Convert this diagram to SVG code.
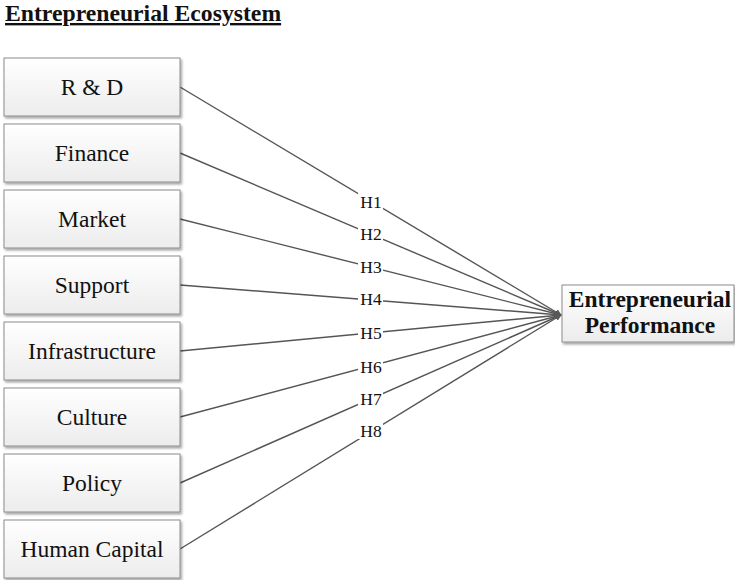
<svg xmlns="http://www.w3.org/2000/svg" width="735" height="580" viewBox="0 0 735 580">
  <defs>
    <linearGradient id="boxFill" x1="0" y1="0" x2="0" y2="1">
      <stop offset="0" stop-color="#ffffff"/>
      <stop offset="1" stop-color="#ececec"/>
    </linearGradient>
    <filter id="shadow" x="-10%" y="-10%" width="120%" height="130%">
      <feDropShadow dx="1.5" dy="2" stdDeviation="1.2" flood-color="#000" flood-opacity="0.35"/>
    </filter>
    <marker id="arrow" viewBox="0 0 10 10" refX="9" refY="5" markerWidth="4.5" markerHeight="4.5" orient="auto">
      <path d="M0,0 L10,5 L0,10 z" fill="#595959"/>
    </marker>
  </defs>
  <style>
    .box { fill: url(#boxFill); stroke: #8c8c8c; stroke-width: 1; filter: url(#shadow); }
    .lbl { font-family: "Liberation Serif", "Times New Roman", serif; font-size: 23.5px; fill: #111; text-anchor: middle; }
    .bold { font-weight: bold; }
    .conn { stroke: #555555; stroke-width: 1.4; fill: none; marker-end: url(#arrow); }
    .h { font-family: "Liberation Serif", "Times New Roman", serif; font-size: 17.5px; fill: #111; text-anchor: middle; }
    .hbg { fill: #ffffff; }
  </style>

  <text x="5" y="21" font-family="Liberation Serif, Times New Roman, serif" font-size="23.7" font-weight="bold" text-decoration="underline" fill="#111">Entrepreneurial Ecosystem</text>

  <g id="connectors">
    <line class="conn" x1="180" y1="87" x2="561" y2="315"/>
    <line class="conn" x1="180" y1="153" x2="561" y2="315"/>
    <line class="conn" x1="180" y1="219" x2="561" y2="315"/>
    <line class="conn" x1="180" y1="285" x2="561" y2="315"/>
    <line class="conn" x1="180" y1="351" x2="561" y2="315"/>
    <line class="conn" x1="180" y1="417" x2="561" y2="315"/>
    <line class="conn" x1="180" y1="483" x2="561" y2="315"/>
    <line class="conn" x1="180" y1="549" x2="561" y2="315"/>
    <g id="hypotheses">
      <rect class="hbg" x="358" y="192" width="25" height="17"/>
      <text class="h" x="371" y="208">H1</text>
      <rect class="hbg" x="358" y="225" width="25" height="17"/>
      <text class="h" x="371" y="240">H2</text>
      <rect class="hbg" x="358" y="258" width="25" height="17"/>
      <text class="h" x="371" y="273">H3</text>
      <rect class="hbg" x="358" y="291" width="25" height="17"/>
      <text class="h" x="371" y="305">H4</text>
      <rect class="hbg" x="358" y="324" width="25" height="17"/>
      <text class="h" x="371" y="339">H5</text>
      <rect class="hbg" x="358" y="357" width="25" height="17"/>
      <text class="h" x="371" y="373">H6</text>
      <rect class="hbg" x="358" y="390" width="25" height="17"/>
      <text class="h" x="371" y="405">H7</text>
      <rect class="hbg" x="358" y="422" width="25" height="17"/>
      <text class="h" x="371" y="437">H8</text>
    </g>
  </g>

  <g id="rd"><rect class="box" x="4" y="58" width="176" height="58"/><text class="lbl" x="92" y="95">R &amp; D</text></g>
  <g id="finance"><rect class="box" x="4" y="124" width="176" height="58"/><text class="lbl" x="92" y="161">Finance</text></g>
  <g id="market"><rect class="box" x="4" y="190" width="176" height="58"/><text class="lbl" x="92" y="227">Market</text></g>
  <g id="support"><rect class="box" x="4" y="256" width="176" height="58"/><text class="lbl" x="92" y="293">Support</text></g>
  <g id="infrastructure"><rect class="box" x="4" y="322" width="176" height="58"/><text class="lbl" x="92" y="359">Infrastructure</text></g>
  <g id="culture"><rect class="box" x="4" y="388" width="176" height="58"/><text class="lbl" x="92" y="425">Culture</text></g>
  <g id="policy"><rect class="box" x="4" y="454" width="176" height="58"/><text class="lbl" x="92" y="491">Policy</text></g>
  <g id="human-capital"><rect class="box" x="4" y="520" width="176" height="58"/><text class="lbl" x="92" y="557">Human Capital</text></g>

  <g id="performance">
    <rect class="box" x="562" y="285" width="172" height="57"/>
    <text class="lbl bold" x="650" y="307">Entrepreneurial</text>
    <text class="lbl bold" x="650" y="333">Performance</text>
  </g>
</svg>
